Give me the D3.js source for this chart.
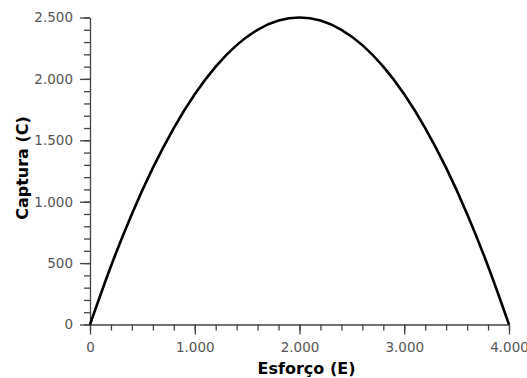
<!DOCTYPE html>
<html>
<head>
<meta charset="utf-8">
<script src="https://cdn.jsdelivr.net/npm/d3@7"></script>
<style>
  body { margin: 0; background: #fff; }
  text { font-family: "DejaVu Sans", sans-serif; }
</style>
</head>
<body>
<script>
// effort (E) and catch (C)
var esforco = [0, 200, 400, 600, 800, 1000, 1200, 1400, 1600, 1800, 2000,
               2200, 2400, 2600, 2800, 3000, 3200, 3400, 3600, 3800, 4000];
var captura = [0, 475, 900, 1275, 1600, 1875, 2100, 2275, 2400, 2475, 2500,
               2475, 2400, 2275, 2100, 1875, 1600, 1275, 900, 475, 0];
var xTicks = [0, 1000, 2000, 3000, 4000];
var yTicks = [0, 500, 1000, 1500, 2000, 2500];

var margin = {top: 17.5, right: 18, bottom: 53.5, left: 90},
    width = 527 - margin.left - margin.right,
    height = 378 - margin.top - margin.bottom;

var fmt = function (d) { return d3.format(",")(d).replace(/,/g, "."); };

var x = d3.scaleLinear().domain([0, 4000]).range([0, width]);
var y = d3.scaleLinear().domain([0, 2500]).range([height, 0]);

var svg = d3.select("body").append("svg")
    .attr("width", 527)
    .attr("height", 378)
  .append("g")
    .attr("transform", "translate(" + margin.left + "," + margin.top + ")");

// minor ticks first
svg.append("g")
    .attr("transform", "translate(0," + height + ")")
    .call(d3.axisBottom(x).tickValues(d3.range(0, 4001, 200)).tickSize(6).tickFormat(""))
    .call(g => g.select(".domain").remove());
svg.append("g")
    .call(d3.axisLeft(y).tickValues(d3.range(0, 2501, 100)).tickSize(6).tickFormat(""))
    .call(g => g.select(".domain").remove());

// X axis
svg.append("g")
    .attr("transform", "translate(0," + height + ")")
    .call(d3.axisBottom(x).tickValues(xTicks).tickSize(10).tickSizeOuter(0).tickPadding(8).tickFormat(fmt));

// Y axis
svg.append("g")
    .call(d3.axisLeft(y).tickValues(yTicks).tickSize(10).tickSizeOuter(0).tickPadding(7).tickFormat(fmt));

svg.selectAll(".tick line, .domain").attr("stroke", "#444").attr("stroke-width", 1.3);
svg.selectAll(".tick text")
    .attr("fill", "#555")
    .style("font-size", "13.5px")
    .style("font-family", "'DejaVu Sans', sans-serif");

// curve
var line = d3.line()
    .x(function (d, i) { return x(esforco[i]); })
    .y(function (d) { return y(d); })
    .curve(d3.curveMonotoneX);

svg.append("path")
    .datum(captura)
    .attr("fill", "none")
    .attr("stroke", "#000")
    .attr("stroke-width", 2.6)
    .attr("d", line);

// labels
svg.append("text")
    .attr("x", x(2000) + 7)
    .attr("y", height + 49.5)
    .attr("text-anchor", "middle")
    .style("font-size", "16px")
    .style("font-weight", "bold")
    .text("Esforço (E)");

svg.append("text")
    .attr("transform", "rotate(-90)")
    .attr("x", -(168 - margin.top))
    .attr("y", -62)
    .attr("text-anchor", "middle")
    .style("font-size", "16px")
    .style("font-weight", "bold")
    .text("Captura (C)");
</script>
</body>
</html>
